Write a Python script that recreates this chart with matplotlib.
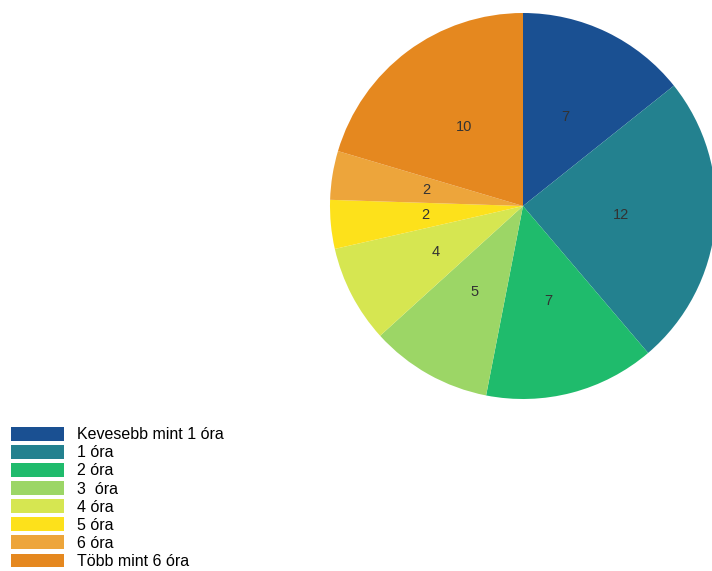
import matplotlib
matplotlib.use("Agg")
import matplotlib.pyplot as plt

plt.rcParams['font.family'] = ['Liberation Sans', 'DejaVu Sans']

labels = ["Kevesebb mint 1 óra", "1 óra", "2 óra", "3  óra", "4 óra", "5 óra", "6 óra", "Több mint 6 óra"]
values = [7, 12, 7, 5, 4, 2, 2, 10]
colors = ["#1a5092", "#23818f", "#1fbb6c", "#9cd666", "#d6e651", "#fde11b", "#eda53b", "#e5881f"]

fig = plt.figure(figsize=(7.12, 5.71), dpi=100)

# pie axes: centre ~(523,206) px, radius ~193 px
r = 193
cx, cy = 523, 571 - 206
ax = fig.add_axes([(cx - r) / 712, (cy - r) / 571, 2 * r / 712, 2 * r / 571])

wedges, texts, autotexts = ax.pie(
    values, colors=colors, startangle=90, counterclock=False,
    autopct=lambda p: "%d" % round(p * sum(values) / 100),
    pctdistance=0.51, wedgeprops=dict(linewidth=0),
    textprops=dict(color="#333333", fontsize=10.5))
ax.set_aspect("auto")
ax.set_xlim(-1, 1)
ax.set_ylim(-1, 1)

fig.legend(wedges, labels, loc="upper left", bbox_to_anchor=(0.0, 0.272),
           frameon=False, fontsize=11.5, handlelength=3.3, handleheight=0.95,
           labelspacing=0.17, handletextpad=0.8, borderpad=0.2)

fig.savefig("out.png", dpi=100)
